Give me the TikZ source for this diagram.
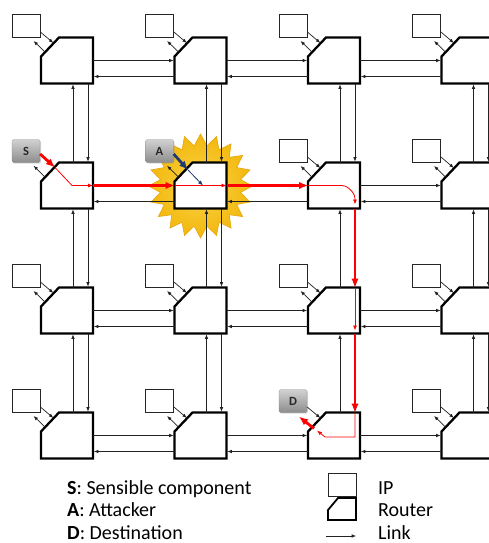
\documentclass[tikz,border=0pt]{standalone}
\usepackage{fontspec}
\setmainfont{Carlito}
\usetikzlibrary{positioning, arrows.meta, shapes.geometric, shadows}
\definecolor{linkcol}{HTML}{222222}
\definecolor{pathred}{HTML}{FF0000}
\definecolor{atknavy}{HTML}{1F3A6E}
\definecolor{burstin}{HTML}{FBD54A}
\definecolor{burstout}{HTML}{F2B70C}
\definecolor{burstedge}{HTML}{E6A70F}
\definecolor{tagtop}{HTML}{D2D2D2}
\definecolor{tagbot}{HTML}{8C8C8C}
\tikzset{
    every node/.style={font=\fontsize{20}{23}\selectfont},
    router/.style={
        rectangle, minimum width=52pt, minimum height=46pt,
        inner sep=0pt, outer sep=0pt,
    },
    routerline/.style={draw=black, line width=2.3pt, fill=white, line join=miter},
    ipbox/.style={
        rectangle, draw=black!85, line width=0.8pt, fill=white,
        minimum width=28pt, minimum height=23pt, inner sep=0pt,
    },
    tag/.style={
        rectangle, rounded corners=1.5pt, draw=tagbot, line width=0.3pt,
        top color=tagtop, bottom color=tagbot,
        minimum width=28pt, minimum height=23pt, inner sep=0pt,
        font=\fontsize{12.5}{12.5}\selectfont\bfseries, text=black!85,
        drop shadow={opacity=0.3, shadow xshift=1pt, shadow yshift=-1pt},
    },
    burst/.style={
        star, star points=20, star point ratio=1.28, minimum size=104pt,
        inner sep=0pt, draw=burstedge, line width=0.6pt,
        inner color=burstin, outer color=burstout,
    },
    link/.style={-{Latex[length=4.5pt,width=3.5pt]}, linkcol, line width=0.7pt, shorten >=0.8pt},
    redthick/.style={-{Latex[length=9pt,width=7.5pt]}, pathred, line width=2.8pt},
    redthin/.style={-{Latex[length=5pt,width=4pt]}, pathred, line width=0.8pt},
    navythick/.style={-{Latex[length=9pt,width=7.5pt]}, atknavy, line width=2.8pt},
    navythin/.style={-{Latex[length=5pt,width=4pt]}, atknavy, line width=0.8pt},
    legtext/.style={anchor=base west, inner sep=0pt, text depth=0pt},
}

\begin{document}
\begin{tikzpicture}[x=1pt, y=-1pt]
\useasboundingbox (0,0) rectangle (489,543);
\fill[white] (0,0) rectangle (489,543);
\clip (0,0) rectangle (489,543);

% attack burst behind the middle router
\node[burst] (hit) at (200.5,186) {};

% routers
\foreach \i/\y in {1/60.5, 2/185.5, 3/310.5, 4/435.5}
  \foreach \j/\x in {1/67, 2/200.5, 3/334, 4/467.5}{
    \node[router] (r-\i-\j) at (\x,\y) {};
    \draw[routerline] ([xshift=18pt]r-\i-\j.north west) -- (r-\i-\j.north east)
        -- (r-\i-\j.south east) -- (r-\i-\j.south west)
        -- ([yshift=-19pt]r-\i-\j.north west) -- cycle;
  }

% horizontal links
\foreach \i in {1,...,4}
  \foreach \j [count=\k from 2] in {1,...,3}{
    \draw[link] (r-\i-\j.east) -- (r-\i-\k.west);
    \draw[link] ([yshift=-16pt]r-\i-\k.west) -- ([yshift=-16pt]r-\i-\j.east);
  }

% vertical links
\foreach \i [count=\k from 2] in {1,...,3}
  \foreach \j in {1,...,4}{
    \draw[link] ([xshift=6pt]r-\k-\j.north) -- ([xshift=6pt]r-\i-\j.south);
    \draw[link] ([xshift=21pt]r-\i-\j.south) -- ([xshift=21pt]r-\k-\j.north);
  }

% IP cores
\foreach \i/\j in {1/1,1/2,1/3,1/4,2/3,2/4,3/1,3/2,3/3,3/4,4/1,4/2,4/4}{
  \node[ipbox] (ip-\i-\j) at ([shift={(-41,-34.5)}]r-\i-\j.center) {};
  \draw[link] ([yshift=-6pt]ip-\i-\j.east) -- ([shift={(-13,-17)}]r-\i-\j.center);
  \draw[link] ([shift={(-22,-8.5)}]r-\i-\j.center) -- ([shift={(7,2.5)}]ip-\i-\j.south);
}

% source, attacker, destination
\node[tag] (src) at ([shift={(-41,-34.5)}]r-2-1.center) {S};
\node[tag] (atk) at ([shift={(-41,-34.5)}]r-2-2.center) {A};
\node[tag] (dst) at ([shift={(-41,-34.5)}]r-4-3.center) {D};

\draw[link] ([shift={(-22,-8.5)}]r-2-1.center) -- ([shift={(7,2.5)}]src.south);
\draw[link] ([shift={(-22,-8.5)}]r-2-2.center) -- ([shift={(7,2.5)}]atk.south);
\draw[link] ([yshift=-6pt]dst.east) -- ([shift={(-13,-17)}]r-4-3.center);

% attacker injection
\draw[navythick] ([yshift=-3pt]atk.east) -- ([shift={(-12.5,-15.5)}]r-2-2.center);
\draw[navythin] ([shift={(-12.5,-15.5)}]r-2-2.center) -- ([shift={(2.5,0)}]r-2-2.center);

% routed path S -> D
\draw[redthick] ([yshift=-3pt]src.east) -- ([shift={(-12,-18)}]r-2-1.center);
\draw[redthin] ([shift={(-12,-18)}]r-2-1.center) -- ([shift={(5,0)}]r-2-1.center) -- (r-2-1.east);
\draw[redthick] (r-2-1.east) -- (r-2-2.west);
\draw[redthin] (r-2-2.west) -- (r-2-2.east);
\draw[redthick] (r-2-2.east) -- (r-2-3.west);
\draw[redthin, rounded corners=4pt] (r-2-3.west) -- ([shift={(12,0)}]r-2-3.center)
    -- ([shift={(21,9)}]r-2-3.center) -- ([shift={(21,19)}]r-2-3.center);
\draw[redthick] ([xshift=21pt]r-2-3.south) -- ([xshift=21pt]r-3-3.north);
\draw[redthin] ([xshift=21pt]r-3-3.north) -- ([shift={(21,20)}]r-3-3.center);
\draw[redthick] ([xshift=21pt]r-3-3.south) -- ([xshift=21pt]r-4-3.north);
\draw[redthin] ([xshift=21pt]r-4-3.north) -- ([shift={(21,1.5)}]r-4-3.center)
    -- ([shift={(-9,1.5)}]r-4-3.center) -- ([shift={(-17,-5)}]r-4-3.center);
\draw[redthick] ([shift={(-20,-7)}]r-4-3.center) -- ([shift={(6,4)}]dst.south);

% legend
\node[legtext] (leg-s) at (67,494) {\textbf{S}: Sensible component};
\node[legtext] (leg-a) at (67,516.5) {\textbf{A}: Attacker};
\node[legtext] (leg-d) at (67,539) {\textbf{D}: Destination};

\node[ipbox] (leg-ip) at (342,484.5) {};
\node[router, minimum width=28pt, minimum height=22pt] (leg-r) at (342,509) {};
\draw[routerline, line width=1.8pt] ([xshift=10pt]leg-r.north west) -- (leg-r.north east)
    -- (leg-r.south east) -- (leg-r.south west) -- ([yshift=-12pt]leg-r.north west) -- cycle;
\coordinate (leg-l1) at (326,536);
\coordinate (leg-l2) at (357,536);
\draw[link] (leg-l1) -- (leg-l2);
\node[legtext] at (378,494) {IP};
\node[legtext] at (378,516.5) {Router};
\node[legtext] at (378,539) {Link};
\end{tikzpicture}
\end{document}
